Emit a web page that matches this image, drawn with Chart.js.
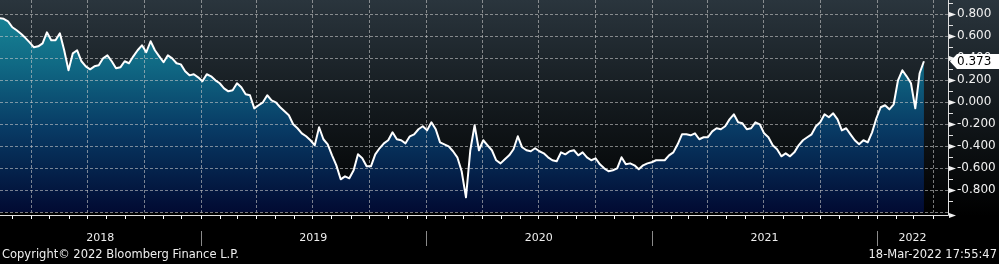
<!DOCTYPE html>
<html>
<head>
<meta charset="utf-8">
<style>
  html, body { margin: 0; padding: 0; background: #000; }
  canvas { display: block; }
</style>
<script src="https://cdn.jsdelivr.net/npm/chart.js@4.4.1/dist/chart.umd.min.js"></script>
</head>
<body>
<canvas id="chart" width="999" height="264"></canvas>
<script>
// weekly (Friday) readings
const weeks2018 = ['02-09','02-16','02-23','03-02','03-09','03-16','03-23','03-30','04-06','04-13','04-20','04-27',
  '05-04','05-11','05-18','05-25','06-01','06-08','06-15','06-22','06-29','07-06','07-13','07-20','07-27',
  '08-03','08-10','08-17','08-24','08-31','09-07','09-14','09-21','09-28','10-05','10-12','10-19','10-26',
  '11-02','11-09','11-16','11-23','11-30','12-07','12-14','12-21','12-28'];
const values2018 = [0.764,0.759,0.736,0.682,0.655,0.623,0.586,0.545,0.500,0.509,0.536,0.636,
  0.564,0.564,0.627,0.473,0.291,0.445,0.473,0.373,0.327,0.300,0.327,0.336,0.400,
  0.427,0.373,0.309,0.318,0.373,0.355,0.418,0.473,0.518,0.455,0.555,0.473,0.418,
  0.364,0.427,0.400,0.355,0.345,0.282,0.245,0.255,0.227];

const weeks2019 = ['01-04','01-11','01-18','01-25','02-01','02-08','02-15','02-22','03-01','03-08','03-15','03-22','03-29',
  '04-05','04-12','04-19','04-26','05-03','05-10','05-17','05-24','05-31','06-07','06-14','06-21','06-28',
  '07-05','07-12','07-19','07-26','08-02','08-09','08-16','08-23','08-30','09-06','09-13','09-20','09-27',
  '10-04','10-11','10-18','10-25','11-01','11-08','11-15','11-22','11-29','12-06','12-13','12-20','12-27'];
const values2019 = [0.191,0.255,0.236,0.200,0.173,0.127,0.100,0.109,0.173,0.136,0.073,0.064,-0.055,
  -0.027,0.000,0.064,0.018,0.000,-0.045,-0.082,-0.118,-0.200,-0.236,-0.282,-0.309,-0.345,
  -0.391,-0.227,-0.336,-0.382,-0.482,-0.573,-0.700,-0.673,-0.691,-0.618,-0.473,-0.509,-0.582,
  -0.582,-0.473,-0.418,-0.373,-0.345,-0.273,-0.336,-0.345,-0.373,-0.309,-0.291,-0.245,-0.218];

const weeks2020 = ['01-03','01-10','01-17','01-24','01-31','02-07','02-14','02-21','02-28','03-06','03-13','03-20','03-27',
  '04-03','04-10','04-17','04-24','05-01','05-08','05-15','05-22','05-29','06-05','06-12','06-19','06-26',
  '07-03','07-10','07-17','07-24','07-31','08-07','08-14','08-21','08-28','09-04','09-11','09-18','09-25',
  '10-02','10-09','10-16','10-23','10-30','11-06','11-13','11-20','11-27','12-04','12-11','12-18','12-25'];
const values2020 = [-0.255,-0.182,-0.245,-0.364,-0.382,-0.400,-0.445,-0.500,-0.627,-0.864,-0.436,-0.209,-0.436,
  -0.345,-0.391,-0.436,-0.527,-0.555,-0.518,-0.482,-0.427,-0.309,-0.409,-0.436,-0.445,-0.418,
  -0.445,-0.464,-0.500,-0.527,-0.536,-0.455,-0.473,-0.445,-0.436,-0.482,-0.455,-0.500,-0.527,
  -0.509,-0.564,-0.600,-0.627,-0.618,-0.600,-0.500,-0.564,-0.555,-0.573,-0.609,-0.573,-0.555];

const weeks2021 = ['01-01','01-08','01-15','01-22','01-29','02-05','02-12','02-19','02-26','03-05','03-12','03-19','03-26',
  '04-02','04-09','04-16','04-23','04-30','05-07','05-14','05-21','05-28','06-04','06-11','06-18','06-25',
  '07-02','07-09','07-16','07-23','07-30','08-06','08-13','08-20','08-27','09-03','09-10','09-17','09-24',
  '10-01','10-08','10-15','10-22','10-29','11-05','11-12','11-19','11-26','12-03','12-10','12-17','12-24','12-31'];
const values2021 = [-0.545,-0.527,-0.527,-0.527,-0.482,-0.455,-0.382,-0.291,-0.291,-0.300,-0.282,-0.336,-0.318,
  -0.318,-0.264,-0.236,-0.245,-0.218,-0.155,-0.109,-0.182,-0.191,-0.245,-0.236,-0.182,-0.200,
  -0.282,-0.318,-0.391,-0.427,-0.491,-0.464,-0.491,-0.455,-0.391,-0.345,-0.318,-0.291,-0.218,
  -0.182,-0.109,-0.136,-0.100,-0.155,-0.255,-0.236,-0.291,-0.345,-0.382,-0.345,-0.364,-0.273,-0.145];

const weeks2022 = ['01-07','01-14','01-21','01-28','02-04','02-11','02-18','02-25','03-04','03-11','03-18'];
const values2022 = [-0.045,-0.027,-0.064,-0.018,0.200,0.291,0.236,0.173,-0.055,0.264,0.373];

const yearLabels = ['2018', '2019', '2020', '2021', '2022'];
const copyright = 'Copyright\u00a9 2022 Bloomberg Finance L.P.';
const stamp = '18-Mar-2022 17:55:47';

const FONT = '"DejaVu Sans", sans-serif';
const X_MIN = 40, X_MAX = 1576;      // days from 1 Jan 2018
const Y_MIN = -1.0336, Y_MAX = 0.930;

function dayOf(y, m, d) {
  return (Date.UTC(y, m, d) - Date.UTC(2018, 0, 1)) / 864e5;
}

const points = [];
[[2018, weeks2018, values2018], [2019, weeks2019, values2019], [2020, weeks2020, values2020],
 [2021, weeks2021, values2021], [2022, weeks2022, values2022]].forEach(([yr, wk, vals]) => {
  wk.forEach((md, i) => {
    const [m, d] = md.split('-').map(Number);
    points.push({ x: dayOf(yr, m - 1, d), y: vals[i] });
  });
});

function monthStarts(step) {
  const out = [];
  for (let y = 2018; y <= 2022; y++) {
    for (let m = 0; m < 12; m += step) {
      const d = dayOf(y, m, 1);
      if (d > X_MIN && d < X_MAX) out.push(d);
    }
  }
  return out;
}

const decor = {
  id: 'decor',
  beforeDraw(chart) {
    const c = chart.ctx, a = chart.chartArea;
    const g = c.createLinearGradient(0, 0, 0, a.bottom);
    g.addColorStop(0, '#2a353d');
    g.addColorStop(0.5, '#13191d');
    g.addColorStop(1, '#000000');
    c.save();
    c.fillStyle = '#000';
    c.fillRect(0, 0, chart.width, chart.height);
    c.fillStyle = g;
    c.fillRect(0, 0, chart.width, a.bottom);
    c.restore();
  },
  afterDatasetDraw(chart, args) {
    if (args.index !== 1) return;   // grid goes over the fill, under the line
    const c = chart.ctx, a = chart.chartArea, xs = chart.scales.x, ys = chart.scales.y;
    const yLow = Math.round(ys.getPixelForValue(-1)) + 0.5;
    c.save();
    c.strokeStyle = 'rgba(200,200,200,0.6)';
    c.lineWidth = 1;
    c.setLineDash([3, 2]);
    ys.ticks.forEach(t => {
      const y = Math.round(ys.getPixelForValue(t.value)) + 0.5;
      c.beginPath(); c.moveTo(a.left, y); c.lineTo(a.right, y); c.stroke();
    });
    monthStarts(3).forEach(d => {
      const x = Math.round(xs.getPixelForValue(d)) + 0.5;
      c.beginPath(); c.moveTo(x, a.top); c.lineTo(x, yLow); c.stroke();
    });
    c.restore();
  },
  afterDraw(chart) {
    const c = chart.ctx, a = chart.chartArea, xs = chart.scales.x, ys = chart.scales.y;
    const ax = a.right + 0.5, by = a.bottom - 0.5;
    c.save();

    // axis lines
    c.strokeStyle = '#e0e0e0';
    c.lineWidth = 1;
    c.beginPath(); c.moveTo(ax, 0); c.lineTo(ax, by); c.stroke();
    c.beginPath(); c.moveTo(0, by); c.lineTo(ax, by); c.stroke();

    // arrow heads on the right axis
    c.fillStyle = '#f0f0f0';
    const arrow = y => {
      c.beginPath(); c.moveTo(a.right + 1, y - 2.5); c.lineTo(a.right + 8, y); c.lineTo(a.right + 1, y + 2.5);
      c.closePath(); c.fill();
    };
    const vals = ys.ticks.map(t => t.value);
    vals.forEach(v => { if (v > -0.95) arrow(Math.round(ys.getPixelForValue(v)) + 0.5); });
    arrow(by);

    // minor ticks halfway between majors
    const minors = [];
    for (let i = 0; i < vals.length - 1; i++) minors.push((vals[i] + vals[i + 1]) / 2);
    minors.push(vals[vals.length - 1] + (vals[1] - vals[0]) / 2);
    minors.forEach(v => {
      const y = Math.round(ys.getPixelForValue(v)) + 0.5;
      if (y < 0) return;
      c.beginPath(); c.moveTo(a.right + 1, y); c.lineTo(a.right + 5, y); c.stroke();
    });

    // monthly ticks under the time axis
    c.strokeStyle = '#ffffff';
    monthStarts(1).forEach(d => {
      const x = Math.round(xs.getPixelForValue(d)) + 0.5;
      c.beginPath(); c.moveTo(x, a.bottom); c.lineTo(x, a.bottom + 3); c.stroke();
    });

    // year separators and labels
    c.strokeStyle = '#8a8a8a';
    c.fillStyle = '#eeeeee';
    c.font = '11px ' + FONT;
    c.textAlign = 'center';
    c.textBaseline = 'middle';
    yearLabels.forEach(lbl => {
      const yr = Number(lbl);
      const x0 = xs.getPixelForValue(Math.max(X_MIN, dayOf(yr, 0, 1)));
      const x1 = xs.getPixelForValue(Math.min(X_MAX, dayOf(yr + 1, 0, 1)));
      if (yr > 2018) {
        const sx = Math.round(x0) + 0.5;
        c.beginPath(); c.moveTo(sx, 231); c.lineTo(sx, 246); c.stroke();
      }
      c.fillText(lbl, (x0 + x1) / 2, 238.5);
    });

    // footer
    c.font = '11.5px ' + FONT;
    c.textAlign = 'left';
    c.fillText(copyright, 2, 255.5);
    c.textAlign = 'right';
    c.fillText(stamp, 997, 255.5);

    // last value tag
    const last = points[points.length - 1];
    const yv = Math.round(ys.getPixelForValue(last.y)) + 0.5;
    c.fillStyle = '#ffffff';
    c.beginPath();
    c.moveTo(a.right + 2, yv);
    c.lineTo(a.right + 9, yv - 7.5);
    c.lineTo(chart.width, yv - 7.5);
    c.lineTo(chart.width, yv + 7.5);
    c.lineTo(a.right + 9, yv + 7.5);
    c.closePath();
    c.fill();
    c.fillStyle = '#000000';
    c.font = '12px ' + FONT;
    c.textAlign = 'left';
    c.fillText(last.y.toFixed(3), a.right + 9, yv + 0.5);

    c.restore();
  }
};

new Chart(document.getElementById('chart'), {
  type: 'line',
  data: {
    datasets: [{
      label: 'line',
      data: points,
      order: 1,
      borderColor: '#ffffff',
      borderWidth: 2,
      borderJoinStyle: 'round',
      pointRadius: 0,
      tension: 0,
      fill: false
    }, {
      label: 'area',
      data: points,
      order: 2,
      borderWidth: 0,
      pointRadius: 0,
      tension: 0,
      fill: { value: -1 },
      backgroundColor(ctx) {
        const a = ctx.chart.chartArea;
        if (!a) return 'rgba(0,0,0,0)';
        const g = ctx.chart.ctx.createLinearGradient(0, a.top, 0, a.bottom);
        g.addColorStop(0, 'rgb(26,140,155)');
        g.addColorStop(0.3, 'rgb(16,105,132)');
        g.addColorStop(0.6, 'rgb(8,58,100)');
        g.addColorStop(1, 'rgb(1,8,48)');
        return g;
      }
    }]
  },
  options: {
    responsive: false,
    animation: false,
    devicePixelRatio: 1,
    layout: { padding: { left: 0, top: 0, right: 0, bottom: 48 } },
    plugins: { legend: { display: false }, tooltip: { enabled: false } },
    scales: {
      x: { type: 'linear', min: X_MIN, max: X_MAX, display: false },
      y: {
        type: 'linear',
        position: 'right',
        min: Y_MIN,
        max: Y_MAX,
        grid: { display: false, drawTicks: false },
        border: { display: false },
        ticks: {
          stepSize: 0.2,
          includeBounds: false,
          padding: 9,
          color: '#f0f0f0',
          font: { family: FONT, size: 12 },
          callback: v => {
            if (v < -0.95 || v > 0.85) return '';
            return Math.abs(v) < 1e-9 ? '0.000' : v.toFixed(3);
          }
        },
        afterFit(s) { s.width = 51; s.paddingTop = 0; s.paddingBottom = 0; }
      }
    }
  },
  plugins: [decor]
});
</script>
</body>
</html>
